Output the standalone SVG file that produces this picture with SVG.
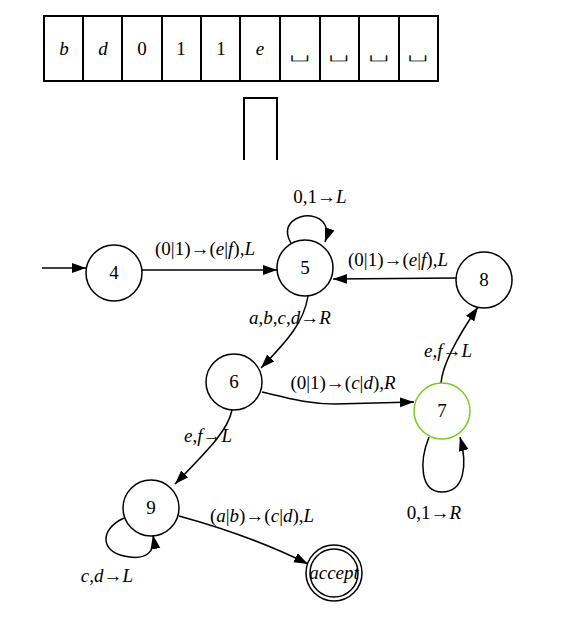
<svg xmlns="http://www.w3.org/2000/svg" width="582" height="618" viewBox="0 0 582 618">
<style>
text{font-family:"Liberation Serif","Times New Roman",serif;font-size:19px;fill:#000}
.c{text-anchor:middle}
.i{font-style:italic}
.b{font-family:"DejaVu Sans",sans-serif;font-size:21px;stroke:#fff;stroke-width:0.8}
.node{fill:#fff;stroke:#000;stroke-width:1.5}
.edge{fill:none;stroke:#000;stroke-width:1.5}
.tape{fill:#fff;stroke:#000;stroke-width:2}
</style>
<defs>
<marker id="ah" markerUnits="userSpaceOnUse" markerWidth="16" markerHeight="12" refX="14" refY="5" orient="auto">
<path d="M0,0 L14,5 L0,10 z" fill="#000"/>
</marker>
</defs>
<rect width="582" height="618" fill="#fff"/>
<g id="tape">
<rect class="tape" x="44" y="16" width="394" height="65"/>
<path d="M83,16V81M122,16V81M162,16V81M201,16V81M240,16V81M280,16V81M320,16V81M359,16V81M399,16V81" stroke="#000" stroke-width="2"/>
<text class="c i" x="64" y="55">b</text>
<text class="c i" x="103" y="55">d</text>
<text class="c" x="142" y="55">0</text>
<text class="c" x="181" y="55">1</text>
<text class="c" x="221" y="55">1</text>
<text class="c i" x="260" y="55">e</text>
<text class="c b" transform="translate(300,57) scale(1.8,1)">␣</text>
<text class="c b" transform="translate(339,57) scale(1.8,1)">␣</text>
<text class="c b" transform="translate(379,57) scale(1.8,1)">␣</text>
<text class="c b" transform="translate(418,57) scale(1.8,1)">␣</text>
</g>
<g id="head">
<path d="M244,160V98H277V160" fill="none" stroke="#000" stroke-width="2"/>
</g>
<g id="connectors">
<path class="edge" d="M42,268 L86,268" marker-end="url(#ah)"/>
<path class="edge" d="M142,270 L277,270" marker-end="url(#ah)"/>
<text class="c" x="205" y="255">(0|1)→(<tspan class="i">e</tspan>|<tspan class="i">f</tspan>),<tspan class="i">L</tspan></text>
<path class="edge" d="M291,243 C280,224 298,214 311,216 C324,218 330,228 325,242" marker-end="url(#ah)"/>
<text class="c" x="320" y="203">0,1→<tspan class="i">L</tspan></text>
<path class="edge" d="M456,278 L333,279" marker-end="url(#ah)"/>
<text class="c" x="398" y="266">(0|1)→(<tspan class="i">e</tspan>|<tspan class="i">f</tspan>),<tspan class="i">L</tspan></text>
<path class="edge" d="M308,296 C304,322 288,340 261,368" marker-end="url(#ah)"/>
<text class="c" x="290" y="324"><tspan class="i">a</tspan>,<tspan class="i">b</tspan>,<tspan class="i">c</tspan>,<tspan class="i">d</tspan>→<tspan class="i">R</tspan></text>
<path class="edge" d="M262,392 C295,400 310,404 335,404 L414,402" marker-end="url(#ah)"/>
<text class="c" x="343" y="389">(0|1)→(<tspan class="i">c</tspan>|<tspan class="i">d</tspan>),<tspan class="i">R</tspan></text>
<path class="edge" d="M441,383 C442,370 452,345 478,307" marker-end="url(#ah)"/>
<text class="c" x="448" y="357"><tspan class="i">e</tspan>,<tspan class="i">f</tspan>→<tspan class="i">L</tspan></text>
<path class="edge" d="M429,437 C419,462 420,492 442,492 C464,492 468,466 460,437" marker-end="url(#ah)"/>
<text class="c" x="434" y="519">0,1→<tspan class="i">R</tspan></text>
<path class="edge" d="M232,410 C228,430 210,448 175,484" marker-end="url(#ah)"/>
<text class="c" x="208" y="442"><tspan class="i">e</tspan>,<tspan class="i">f</tspan>→<tspan class="i">L</tspan></text>
<path class="edge" d="M124,518 C98,530 102,552 124,556 C146,561 156,552 153,535" marker-end="url(#ah)"/>
<text class="c" x="107" y="582"><tspan class="i">c</tspan>,<tspan class="i">d</tspan>→<tspan class="i">L</tspan></text>
<path class="edge" d="M179,516 C230,530 270,545 308,564" marker-end="url(#ah)"/>
<text class="c" x="262" y="522">(<tspan class="i">a</tspan>|<tspan class="i">b</tspan>)→(<tspan class="i">c</tspan>|<tspan class="i">d</tspan>),<tspan class="i">L</tspan></text>
</g>
<g id="n4"><circle class="node" cx="114" cy="273" r="28"/><text class="c" x="114" y="279">4</text></g>
<g id="n5"><circle class="node" cx="305" cy="268" r="28"/><text class="c" x="305" y="274">5</text></g>
<g id="n8"><circle class="node" cx="484" cy="280" r="28"/><text class="c" x="484" y="286">8</text></g>
<g id="n6"><circle class="node" cx="234" cy="382" r="28"/><text class="c" x="234" y="388">6</text></g>
<g id="n7"><circle class="node" cx="442" cy="411" r="28" style="stroke:#77cc22"/><text class="c" x="442" y="417">7</text></g>
<g id="n9"><circle class="node" cx="151" cy="508" r="28"/><text class="c" x="151" y="514">9</text></g>
<g id="accept"><circle class="node" cx="334" cy="573" r="28"/><circle class="node" cx="334" cy="573" r="24"/><text class="c i" x="334" y="579">accept</text></g>
</svg>
